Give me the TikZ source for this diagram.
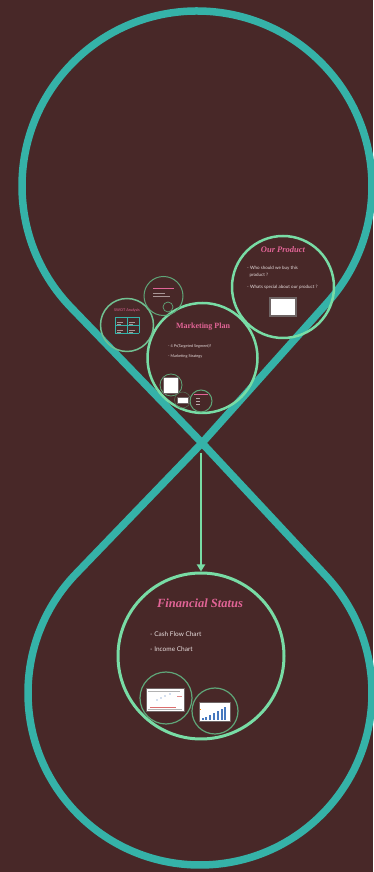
\documentclass[tikz,border=0pt]{standalone}
\usepackage{fontspec}
\setmainfont{Lato}
\newfontfamily\titlefont{Liberation Serif}
\usepackage{tikz}
\usetikzlibrary{shapes,arrows.meta,positioning,calc}
\definecolor{brownbg}{RGB}{72,40,40}
\definecolor{tealpr}{RGB}{53,178,168}
\definecolor{greenpr}{RGB}{120,220,165}
\definecolor{greendk}{RGB}{95,165,120}
\definecolor{pinkpr}{RGB}{225,100,150}
\definecolor{textpr}{RGB}{232,222,222}
\definecolor{bluepr}{RGB}{70,120,190}
\definecolor{redpr}{RGB}{220,110,110}

\begin{document}
\begin{tikzpicture}[x=1pt,y=1pt,
    bigring/.style={draw=greenpr, line width=2.5pt, circle, inner sep=0pt},
    smallring/.style={draw=greendk, line width=1.2pt, circle, inner sep=0pt},
    ptitle/.style={text=pinkpr, inner sep=0pt, font=\titlefont\bfseries\itshape\fontsize{#1}{#1}\selectfont},
    btext/.style={text=textpr, inner sep=0pt, anchor=west, align=left, font=\fontsize{#1}{7}\selectfont},
    photo/.style={draw=gray!70!brownbg, fill=white, line width=0.8pt, inner sep=0pt},
    scribble/.style={line width=0.6pt}]
% background and page size
\fill[brownbg] (0,0) rectangle (373,872);
\useasboundingbox (0,0) rectangle (373,872);

% the figure-eight path
\coordinate (cross) at (202,429);
\draw[tealpr, line width=7.5pt, line join=round]
    (cross) -- ($(197,686)+(224:175)$) arc[start angle=224, end angle=-41.8, radius=175]
    -- (cross) -- ($(200,179)+(136:172)$) arc[start angle=136, end angle=403, radius=172] -- cycle;

% upper loop: product / marketing
\node[bigring, minimum size=102pt] (product) at (283,585) {};
\node[ptitle=8.5] (prodtitle) at (283,622) {Our Product};
\node[btext=4.5] (prodq1) at (247,600.5) {- Who should we buy this\\\ \ product ?};
\node[btext=4.5] (prodq2) at (247,585) {- Whats special about our product ?};
\node[photo, line width=1.2pt, minimum width=26pt, minimum height=18pt] (prodpic) at (283,565) {};

\node[bigring, minimum size=110pt] (market) at (202.5,514) {};
\node[text=pinkpr, inner sep=0pt, font=\titlefont\bfseries\fontsize{8}{8}\selectfont] (markettitle) at (203,545) {Marketing Plan};
\node[btext=3.8] (market1) at (168,526) {- 4 Ps(Targeted Segment)?};
\node[btext=3.8] (market2) at (168,516) {- Marketing Strategy};
\node[smallring, line width=0.8pt, minimum size=22pt] (picring) at (171,487) {};
\node[photo, minimum width=15pt, minimum height=16pt] (marketpic) at (170.5,487) {};
\node[smallring, line width=0.5pt, draw=greendk!60!brownbg, minimum size=16pt] (stripring) at (182.5,472) {};
\node[photo, minimum width=11pt, minimum height=6pt] (marketstrip) at (182.5,472) {};

\node[smallring, line width=1pt, minimum size=22pt] (lowring) at (201,471) {};
\draw[pinkpr, scribble] (194,478) -- (208,478);
\foreach \yy in {474,471,468}
    \draw[textpr!70!brownbg, scribble] (196,\yy) -- (199.5,\yy);

\node[smallring, draw=greenpr!85!brownbg, line width=1.5pt, minimum size=53pt] (swot) at (127,547) {};
\node[text=pinkpr, inner sep=0pt, font=\fontsize{3.8}{3.8}\selectfont] (swottitle) at (127,562) {SWOT Analysis};
\draw[tealpr, line width=0.9pt, shift={(115,539)}, xstep=12, ystep=8] (0,0) grid (24,16);
\foreach \cx in {117,129}
    \foreach \cy in {550,542} {
        \draw[textpr!60!brownbg, line width=0.4pt] (\cx,\cy) -- (\cx+6,\cy);
        \draw[textpr!60!brownbg, line width=0.4pt] (\cx,\cy-2) -- (\cx+4,\cy-2);
    }

\node[smallring, line width=1pt, minimum size=39pt] (upper) at (163.5,576) {};
\draw[pinkpr, scribble] (153,584) -- (174,584);
\draw[textpr!60!brownbg, scribble] (153,579) -- (165,579);
\draw[textpr!60!brownbg, scribble] (153,576) -- (170,576);
\node[smallring, line width=0.7pt, minimum size=10pt] (upperdot) at (168,565) {};

% lower loop: finance
\node[bigring, line width=3pt, minimum size=166pt] (fin) at (201,216) {};
\coordinate (arrowstart) at (201,419);
\draw[greenpr, line width=1.8pt, -{Triangle[length=7pt,width=8pt]}] (arrowstart) -- (fin.north);
\node[ptitle=12.5] (fintitle) at (200,269) {Financial Status};
\node[btext=6.5] (fin1) at (150,238) {- Cash Flow Chart};
\node[btext=6.5] (fin2) at (150,223) {- Income Chart};

\node[smallring, minimum size=52pt] (cashring) at (166,174) {};
\node[photo, line width=0.5pt, minimum width=38pt, minimum height=23pt] (cashpic) at (165,172.5) {};
\draw[gray!60, line width=0.5pt] (148,181) -- (180,181);
\draw[redpr, line width=0.6pt] (150,165) -- (176,165);
\draw[gray!60, line width=0.4pt] (148,163) -- (182,163);
\foreach \px/\py in {157/172, 161/174, 165/176, 170/178}
    \fill[bluepr] (\px,\py) circle (0.6);
\draw[redpr!80, line width=1pt] (177,175) -- (182,175);

\node[smallring, minimum size=46pt] (incomering) at (215,161) {};
\node[photo, line width=0.5pt, minimum width=31pt, minimum height=19pt] (incomepic) at (214.5,160.5) {};
\foreach \bx/\bh in {202/2, 205/3, 209/5, 213/7, 217/9, 221/11, 224/13}
    \fill[bluepr] (\bx,152) rectangle (\bx+1.8,152+\bh);
\fill[orange] (200,162) rectangle (201,163);
\end{tikzpicture}
\end{document}
